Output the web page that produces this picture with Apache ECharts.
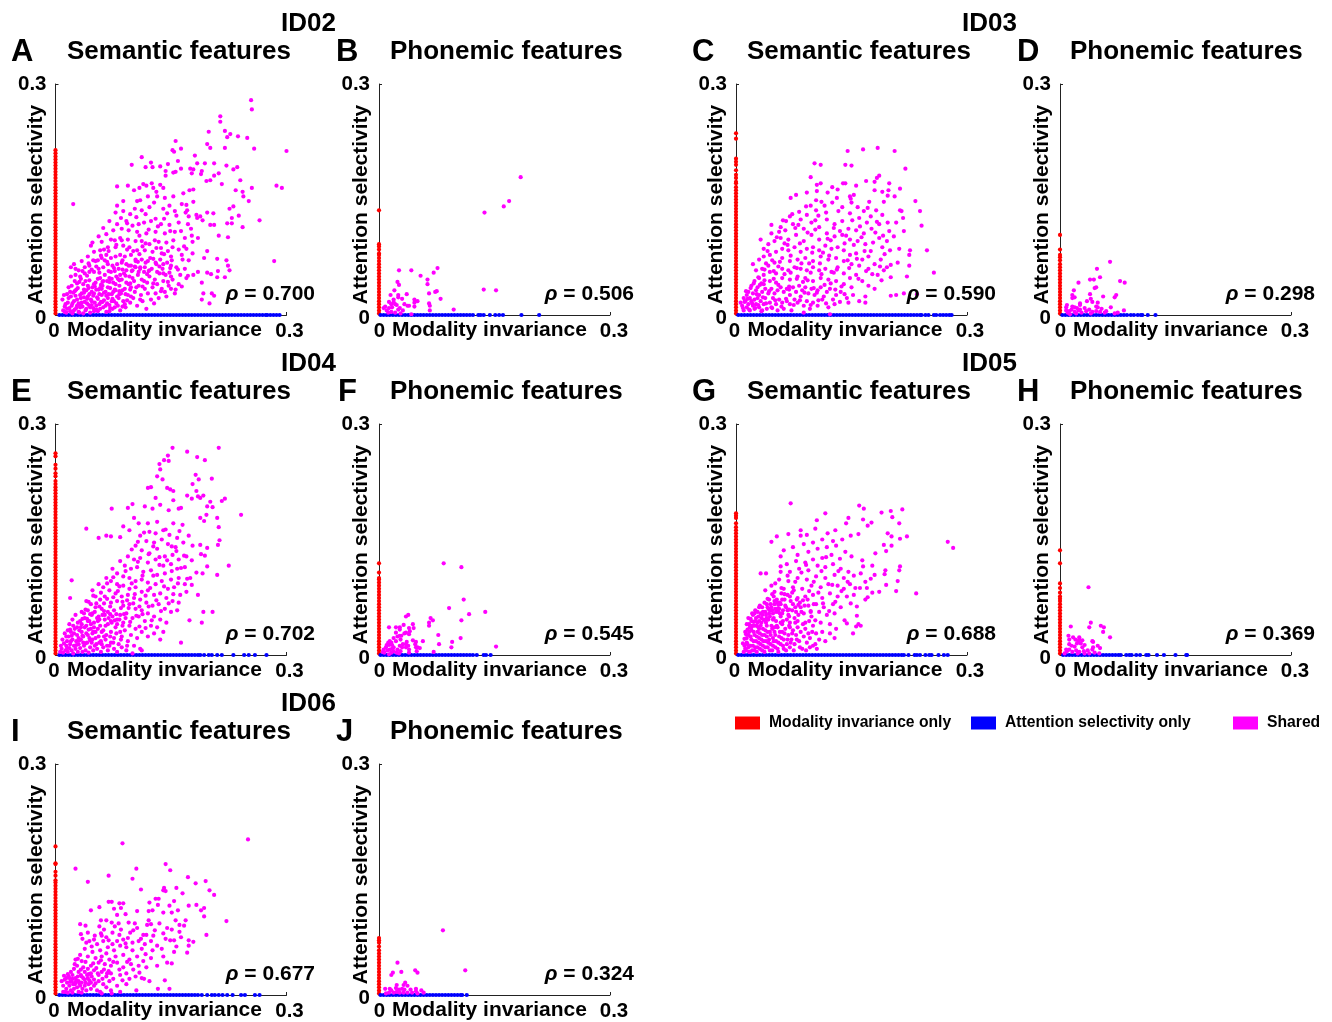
<!DOCTYPE html>
<html><head><meta charset="utf-8"><style>html,body{margin:0;background:#fff}#c{width:1332px;height:1022px}</style>
<script src="https://cdn.jsdelivr.net/npm/echarts@6/dist/echarts.min.js"></script></head><body><div id="c"></div>
<script>
const letters=['A','B','C','D','E','F','G','H','I','J'];
const rhos=['0.700','0.506','0.590','0.298','0.702','0.545','0.688','0.369','0.677','0.324'];
const idLabels=['ID02','ID03','ID04','ID05','ID06'];

const redA=[2,6,10,14,18,22,26,30,34,38,42,46,50,54,58,62,66,70,74,78,82,86,90,94,98,102,106,110,114,118,122,126,130,134,138,142,146,150,154,158,162,166,170,174,178,182,186,190,194,198,202,206,210,214];
const redB=[2,6,10,14,18,22,26,30,34,38,42,46,50,54,58,62,66,70,74,78,80,85,89,92,136];
const redC=[2,6,10,14,18,22,26,30,34,38,42,46,50,54,58,62,66,70,74,78,82,86,90,94,98,102,106,110,114,118,122,126,130,134,138,142,146,150,154,158,162,166,171,173,178,182,188,195,199,203,229,236];
const redD=[2,6,10,14,18,22,26,30,34,38,42,46,50,54,58,62,66,71,75,78,85,104];
const redE=[2,6,10,14,18,22,26,30,34,38,42,46,50,54,58,62,66,70,74,78,82,86,90,94,98,102,106,110,114,118,122,126,130,134,138,142,146,150,154,158,162,166,170,174,178,182,186,190,194,198,202,206,210,214,218,222,226,232,236,242,247,258,262];
const redF=[2,6,10,14,18,22,26,30,34,38,42,46,50,54,58,62,66,70,74,78,82,86,90,94,98,100,107,119];
const redG=[2,6,10,14,18,22,26,30,34,38,42,46,50,54,58,62,66,70,74,78,82,86,90,94,98,102,106,110,114,118,122,126,130,134,138,142,146,150,154,158,162,166,171,178,181,184];
const redH=[2,6,10,14,18,22,26,30,34,38,42,46,50,54,58,62,66,70,73,76,81,87,93,119,136];
const redI=[2,6,10,14,18,22,26,30,34,38,42,46,50,54,58,62,66,70,74,78,82,86,90,94,98,102,106,110,114,118,122,126,130,134,138,142,146,149,155,160,170,171,193];
const redJ=[2,6,10,14,18,22,26,30,34,38,42,46,50,54,58,63,68,71,74];

const blueA=[5,9,13,17,21,25,29,33,37,41,45,49,53,57,61,65,69,73,77,81,85,89,93,97,101,105,109,113,117,121,125,129,133,137,141,145,149,153,157,161,165,169,173,177,181,185,189,193,197,201,205,209,213,217,221,225,229,233,237,241,245,249,253,257,261,265,269,273,275,279,283,287,291];
const blueB=[2,6,10,14,18,22,26,30,34,38,42,46,50,54,58,62,66,70,74,78,82,86,90,94,98,102,106,110,114,118,122,129,132,136,144,151,156,161,185,208];
const blueC=[3,7,11,15,19,23,27,31,35,39,43,47,51,55,59,63,67,71,75,79,83,87,91,95,99,103,107,111,115,119,123,127,131,135,139,143,147,151,155,159,163,167,171,175,179,183,187,191,195,199,203,207,211,215,219,223,227,231,235,239,241,246,250,257,260,265,269,273,277,280];
const blueD=[3,7,11,15,19,23,27,31,35,39,43,47,51,55,59,63,67,71,75,79,83,87,92,96,101,105,107,114,124];
const blueE=[5,9,13,17,21,25,29,33,37,41,45,49,53,57,61,65,69,73,77,81,85,89,93,97,101,105,109,113,117,121,125,129,133,137,141,145,149,153,157,161,165,169,173,177,181,185,188,193,199,203,210,216,231,245,251,259,274];
const blueF=[2,6,10,14,18,22,26,30,34,38,42,46,50,54,58,62,66,70,74,78,82,86,90,94,98,102,106,110,114,118,122,127,136,139,145];
const blueG=[3,7,11,15,19,23,27,31,35,39,43,47,51,55,59,63,67,71,75,79,83,87,91,95,99,103,107,111,115,119,123,127,131,135,139,143,147,151,155,159,163,167,171,175,179,183,187,191,195,199,203,207,211,215,218,224,232,235,239,246,251,254,263,270,275];
const blueH=[4,8,12,16,20,24,28,32,36,40,44,48,52,56,60,64,68,72,76,79,86,90,93,99,104,112,115,126,135,150,164,165];
const blueI=[5,9,13,17,21,25,29,33,37,41,45,49,53,57,61,65,69,73,77,81,85,89,93,97,101,105,109,113,117,121,125,129,133,137,141,145,149,153,157,161,165,169,173,177,181,185,190,197,203,207,212,217,223,230,241,246,259,265];
const blueJ=[2,6,10,14,18,22,26,30,34,38,42,46,50,54,58,62,66,70,74,78,82,86,90,94,98,102,106,108,114];

// flat x,y pairs
const sharedA=[254,279,255,267,214,258,214,251,199,238,220,239,227,235,223,231,237,232,249,230,197,222,201,217,220,217,258,216,300,213,156,226,152,214,163,216,154,212,181,207,159,200,184,197,194,197,206,197,222,194,236,192,231,189,112,205,99,195,117,192,124,198,126,192,136,193,146,196,156,186,163,190,143,187,143,181,153,185,175,190,179,189,190,187,189,183,177,184,206,181,212,184,201,175,196,174,216,170,240,175,255,165,287,168,294,165,234,162,243,160,244,154,251,148,23,144,265,123,284,70,243,114,238,129,229,126,231,141,226,138,223,119,229,119,224,101,212,103,206,117,201,117,197,133,205,132,188,128,191,123,184,126,197,83,193,74,210,73,222,71,224,64,226,58,220,49,211,57,210,49,202,53,197,55,190,42,185,56,179,52,172,51,192,28,190,20,203,28,206,25,200,15,164,37,
80,167,94,168,102,162,109,165,114,170,118,168,125,171,127,165,136,169,140,165,131,160,80,142,88,148,106,148,110,149,120,154,132,154,142,152,153,154,166,158,174,162,179,163,164,144,170,143,179,147,171,136,173,128,183,130,148,142,155,135,140,138,145,132,128,146,122,140,112,136,103,138,97,131,88,135,85,126,78,133,70,122,62,113,80,118,92,122,100,116,108,118,115,120,124,122,130,125,137,118,148,117,160,120,172,118,176,112,185,100,178,95,168,100,155,108,142,106,130,108,118,106,106,108,95,110,86,112,75,110,66,105,56,102,48,94,46,90,60,95,72,98,84,100,94,98,104,96,112,96,122,92,134,95,144,94,152,88,160,85,170,86,178,80,164,78,150,76,138,80,126,82,116,84,106,84,96,88,88,90,78,88,68,88,58,84,50,82,42,76,34,70,24,66,
20,62,26,60,30,58,38,62,44,64,52,70,60,74,66,78,72,74,78,76,84,78,90,76,98,78,104,72,112,72,120,70,130,68,140,66,150,64,20,50,26,52,32,50,38,54,44,56,50,56,56,60,62,62,68,66,74,64,80,66,86,68,92,66,98,64,104,62,110,60,116,62,122,58,132,56,140,54,150,50,
9,20,11,26,13,14,15,8,12,4,17,22,19,30,21,12,23,5,24,18,26,25,27,9,29,35,30,15,31,3,33,22,34,28,35,11,36,40,38,17,39,6,40,32,42,24,43,13,44,45,45,3,46,20,48,36,49,9,50,28,51,16,52,42,54,23,55,5,56,33,57,14,58,48,60,26,61,38,62,10,63,19,64,52,65,30,66,4,67,44,68,22,70,13,71,35,72,56,73,27,74,8,75,42,76,18,78,32,79,50,80,24,81,12,82,60,83,38,84,6,85,28,86,46,88,18,89,54,90,34,91,10,92,42,94,26,95,64,96,50,97,16,98,36,100,58,101,22,102,44,103,30,104,70,106,12,107,52,108,38,110,62,111,26,112,46,113,18,115,56,116,34,117,68,118,8,119,42,120,28,122,50,123,74,124,20,125,60,126,36,128,15,129,46,130,28,131,66,132,40,134,22,135,54,136,72,138,34,139,60,140,44,142,30,143,52,144,24,145,68,147,38,148,55,150,34,152,46,155,28,157,62,160,40,162,52,165,72,168,60,170,48,
10,6,12,11,14,3,16,16,18,9,19,5,20,24,22,2,22,15,25,7,25,31,28,12,28,20,30,4,32,10,32,26,34,16,36,2,37,23,37,33,40,8,41,15,42,38,44,27,45,10,47,18,47,30,50,5,50,40,53,12,53,33,55,21,58,8,59,17,60,34,62,44,65,12,66,25,68,36,70,5,70,48,73,18,75,30,77,10,78,40,82,22,84,52,87,32,90,14,92,58,95,40,98,24,100,48,105,36,108,56,110,20,115,44,
55,71,63,85,69,57,77,97,81,47,87,71,93,119,99,57,101,83,105,127,107,69,109,103,113,89,117,131,119,53,121,111,127,73,129,97,133,115,135,63,137,87,141,125,146,83,149,109,151,71,153,97,157,129,159,59,163,109,167,89,169,133,173,71,177,103,58,35,64,71,70,43,76,61,83,31,86,97,91,51,93,85,97,41,103,63,109,79,113,37,117,93,121,57,127,41,131,87,137,31,141,79,146,43,149,61,156,33,
21,38,25,44,28,41,33,47,35,57,41,51,43,67,47,59,49,71,53,63,57,55,59,77,61,43,67,69,69,83,73,47,77,57,79,91,83,45,87,59,
15,27,17,36,23,29,27,33,31,43,33,13,37,29,39,44,41,21,43,35,47,13,49,25,51,37,53,7,55,47,57,27,59,39,61,17,63,29,67,15,69,27,71,9,74,21,77,33,79,15,83,27,87,11,91,27,93,19,97,33];

const sharedB=[184,179,169,148,162,141,137,133,136,33,152,32,76,61,71,55,42,58,26,58,54,51,63,46,63,40,24,43,26,39,20,32,15,26,25,26,25,23,36,27,30,21,65,28,73,30,75,31,80,21,46,20,50,18,46,16,46,11,65,15,66,12,66,6,97,7,19,20,13,17,16,14,19,17,21,14,23,13,27,9,33,14,37,12,39,12,8,11,6,9,10,6,12,3,16,4,21,3,28,2,42,1,31,6,25,7,13,9,17,10];

const sharedC=[145,213,165,215,184,217,206,213,220,190,102,197,110,195,142,195,150,194,97,179,186,181,183,178,169,174,199,171,105,169,110,171,125,166,139,171,142,171,132,163,156,168,180,173,180,162,190,160,213,164,198,162,197,155,206,154,92,159,119,159,105,161,71,152,78,156,104,149,131,152,148,154,153,156,173,147,192,147,233,148,239,135,241,116,213,136,215,135,217,126,208,120,218,109,248,84,226,84,225,78,257,55,210,68,201,65,192,58,222,50,225,64,235,27,218,28,208,26,201,25,189,45,46,117,58,114,65,122,82,134,97,142,
150,146,158,140,166,135,175,128,182,136,190,130,197,120,186,118,170,120,160,126,148,132,138,140,125,146,115,142,104,136,92,130,84,124,74,118,64,110,70,128,88,112,98,120,108,114,118,124,128,118,138,122,146,112,156,110,166,106,176,112,186,100,196,96,205,102,212,86,200,84,190,88,178,94,168,92,158,96,148,98,138,104,128,102,118,106,108,98,98,104,88,96,78,104,68,98,58,100,50,96,42,92,36,86,32,98,46,106,56,108,
30,72,36,76,44,78,52,82,60,86,68,84,76,88,84,82,92,86,100,88,108,84,116,90,124,86,132,88,140,84,148,78,156,80,164,72,172,76,180,66,188,72,196,62,184,52,172,60,160,64,150,66,140,70,130,74,120,72,110,76,100,70,90,74,80,72,70,70,60,74,50,68,42,64,34,60,26,58,22,66,
24,44,30,48,36,52,44,56,52,54,60,60,68,58,76,62,84,60,92,58,100,62,108,58,116,60,124,56,132,62,140,54,148,48,156,52,164,44,172,38,180,34,150,36,140,40,130,44,120,46,110,48,100,44,90,48,80,50,70,46,60,48,52,42,44,44,36,40,28,36,20,38,16,30,
18,22,22,28,26,32,30,26,34,30,38,34,42,28,46,34,50,28,54,32,58,36,62,30,66,34,70,26,74,36,78,30,82,38,86,32,90,36,94,28,98,34,102,26,106,32,110,36,114,24,118,30,122,34,126,20,130,26,136,30,144,22,152,26,160,18,168,24,
6,16,8,12,10,6,10,22,12,18,14,10,14,26,16,14,18,6,20,18,22,12,24,20,24,8,26,14,28,22,30,10,32,18,34,6,36,14,38,22,40,8,44,16,46,10,48,22,52,14,54,6,56,20,60,16,62,8,66,18,70,14,72,6,76,20,80,16,84,24,88,12,92,18,96,8,100,16,106,12,112,20,120,10,128,14,
88,3,122,1,168,16,146,16,
33,41,39,67,47,71,55,63,63,93,71,77,77,113,83,93,91,141,95,67,103,111,107,129,113,81,117,133,123,97,127,55,135,109,141,93,147,61,151,123,157,73,163,101,169,57,175,83,181,107,187,63,193,79,199,109,29,49,37,59,41,83,49,47,53,101,57,69,61,123,67,91,69,37,73,131,79,61,81,117,87,43,93,107,97,55,99,81,103,123,105,29,109,67,111,147,115,39,119,99,121,77,127,113,131,59,133,135,137,37,143,103,145,71,149,151,153,91,159,47,161,115,167,83,171,139,177,53,183,121,191,103,201,49,
9,9,11,17,13,31,15,21,17,7,19,35,21,15,23,41,25,9,27,27,29,13,31,39,33,5,35,23,37,45,39,15,43,31,47,9,49,57,51,19,55,39,59,11,63,53,65,21,69,33,71,55,75,13,79,47,83,19,85,67,89,29,93,45,97,13,101,35,107,19,111,53,117,15,123,41,129,33,135,17,141,27];

const sharedD=[65,69,48,60,52,49,39,46,44,46,24,42,78,44,84,42,18,32,47,36,45,35,16,26,19,23,16,22,39,27,40,21,42,17,35,18,26,15,26,13,49,16,56,24,73,26,71,23,66,10,9,13,8,10,16,11,19,10,22,9,32,9,26,7,47,11,49,10,54,8,60,5,83,6,75,3,71,2,10,3,12,5,15,7,19,4,21,2,24,6,28,3,34,5,38,7,42,4,47,5,52,4,58,3,40,2,8,6,13,1];

const sharedE=[152,269,212,269,171,264,146,259,141,253,184,257,194,253,147,252,135,248,136,241,182,234,203,229,132,232,139,228,186,228,178,222,120,217,124,218,145,217,149,215,153,213,183,213,153,201,171,207,177,203,185,206,192,207,188,204,201,199,220,203,216,200,73,190,94,191,100,196,116,193,130,204,126,190,136,195,147,188,160,190,163,191,197,193,204,192,196,182,241,182,210,178,188,178,193,174,212,166,102,178,40,164,56,152,66,155,72,154,84,153,88,167,96,162,108,171,120,171,132,173,153,171,165,169,213,149,211,143,173,155,188,143,178,142,194,129,197,115,225,116,210,104,191,106,175,100,177,91,185,78,192,56,204,56,174,45,190,42,163,16,21,97,19,74,
110,155,122,160,130,158,140,162,148,156,158,152,118,148,128,146,138,150,146,144,156,140,166,146,104,142,112,136,122,132,132,138,142,128,152,130,160,124,170,128,94,128,102,124,110,126,120,120,130,124,140,116,150,118,158,112,168,114,84,122,90,116,98,112,106,114,114,108,124,110,132,104,142,106,150,98,160,100,168,92,74,112,80,106,88,102,96,100,104,96,112,98,120,94,130,92,138,96,146,86,154,88,162,78,170,82,66,100,72,96,80,92,88,90,96,86,104,88,112,82,120,84,128,78,136,80,144,74,152,70,160,68,56,92,62,88,70,84,78,80,86,76,94,78,102,74,110,72,118,68,126,64,134,66,142,60,150,56,158,58,
48,84,52,76,58,72,64,76,72,68,80,70,88,64,96,66,104,60,112,58,120,54,128,50,136,46,144,42,46,66,52,62,60,60,68,56,76,58,84,52,92,54,100,48,108,50,116,44,124,38,132,36,140,30,40,70,34,56,42,58,48,54,56,50,64,46,72,44,80,40,88,42,96,38,104,34,112,30,120,24,128,28,136,20,
14,24,16,32,18,40,20,18,22,46,24,28,26,52,28,36,30,22,32,44,34,30,36,16,38,48,40,38,42,26,44,44,46,34,48,20,50,42,52,30,54,48,56,24,58,38,60,14,62,32,64,52,66,26,68,40,70,12,72,30,74,50,76,22,78,36,80,46,82,14,84,30,86,24,90,32,94,18,98,26,102,12,106,22,110,8,
6,4,7,12,8,8,9,20,10,3,11,15,12,28,13,6,14,12,15,18,16,4,17,24,18,9,19,14,20,30,21,6,22,20,23,2,24,12,25,34,26,8,27,18,28,26,29,4,30,14,31,32,32,9,33,20,34,40,35,4,36,24,37,12,38,36,39,6,40,28,41,16,42,44,43,3,44,22,45,10,46,40,47,16,48,28,49,6,50,36,51,12,52,22,54,8,55,44,57,16,59,4,60,30,62,10,65,20,68,6,72,16,76,8,80,4,86,10,92,6,100,2,112,6,
63,57,67,93,71,63,75,101,79,53,83,89,87,69,91,109,95,61,99,93,103,79,107,121,109,63,113,103,117,77,121,131,123,87,127,103,131,71,135,117,137,57,141,89,145,123,147,67,151,109,153,79,157,135,159,93,163,113,167,129,171,99,177,123,183,107,189,131,197,139,99,137,107,147,115,159,127,141,135,127,143,163,151,141,161,161,
35,47,39,59,43,69,45,53,49,77,53,67,57,63,59,81,63,67,67,73,71,53,75,75,77,45,81,83,85,61,89,53,93,71,97,43,101,67,105,51,109,37,113,53,117,35,121,63,125,45,
15,9,19,33,21,25,23,38,27,13,29,42,31,19,33,36,35,25,37,54,39,15,41,47,43,33,45,19,47,52,49,30,51,56,53,14,55,34,57,46,59,18,61,52,63,24,65,38,67,12,69,48,71,24,73,42,75,16,79,28,83,46,85,20,87,38,91,48,93,12];

const sharedF=[84,119,107,114,110,72,91,61,117,53,138,56,107,45,38,52,35,50,67,48,70,45,65,42,65,38,44,40,32,39,13,36,22,36,27,36,27,33,39,35,45,35,40,31,33,28,35,29,39,27,22,29,77,26,57,18,106,22,95,17,78,14,94,10,152,11,71,4,53,9,49,5,44,19,48,17,47,14,48,10,50,10,27,25,24,24,29,25,19,22,22,18,28,20,36,17,31,14,35,14,38,12,39,7,39,3,35,10,30,10,27,12,28,5,14,18,12,16,16,16,10,13,13,13,17,13,19,10,24,7,23,3,6,7,7,3,11,6,14,7,16,3,19,5,13,1,26,2,9,10,17,8,5,4];

const sharedG=[71,197,160,194,166,190,189,185,201,187,216,189,116,184,203,179,105,175,146,178,165,176,143,171,171,168,176,172,212,171,103,164,84,162,129,162,197,158,202,154,222,154,213,151,275,147,282,139,46,147,53,154,68,157,92,156,84,155,119,158,149,155,159,157,192,143,195,135,202,142,181,132,164,123,177,116,194,110,213,115,212,110,193,105,180,104,162,106,210,96,195,91,168,95,170,87,155,87,177,81,186,82,208,83,234,80,153,78,168,72,157,63,159,40,162,38,156,37,152,28,144,41,105,8,96,10,58,128,32,106,39,106,58,115,
138,150,126,148,112,150,100,146,88,144,74,140,62,136,80,130,94,134,106,138,118,140,130,142,142,134,150,128,135,125,124,130,112,126,100,124,90,120,78,122,66,118,58,108,70,108,82,112,94,110,106,116,116,114,126,118,136,112,146,108,140,100,128,104,116,100,104,102,92,98,80,100,68,96,56,98,46,90,38,84,50,82,62,86,74,88,86,86,98,90,110,88,120,92,132,90,140,86,148,92,144,76,132,76,122,80,112,74,100,78,90,76,80,74,70,76,60,72,50,70,40,66,30,62,24,54,34,52,44,58,54,60,64,64,74,66,84,62,94,64,104,66,114,62,126,66,136,62,128,54,118,52,108,56,98,50,88,54,78,56,68,52,58,50,48,46,38,44,28,42,20,36,30,34,40,38,50,36,60,40,70,42,80,44,90,42,100,38,110,42,122,40,130,34,
12,8,14,16,16,10,16,26,18,4,20,20,20,32,22,12,24,26,24,6,26,18,28,30,28,10,30,22,32,14,32,38,34,6,34,26,36,18,38,32,38,10,40,24,42,46,42,16,44,30,44,6,46,38,48,22,48,12,50,30,52,44,52,18,54,8,54,36,56,24,58,14,58,42,60,30,62,20,62,8,64,34,66,46,66,14,68,26,70,36,70,10,72,20,74,32,76,48,76,14,78,26,80,36,82,18,84,30,86,8,88,24,90,34,92,16,94,28,96,22,100,12,104,28,108,20,112,30,116,18,122,28,128,22,
10,4,11,12,13,6,14,22,15,14,17,30,17,4,19,12,19,24,21,6,21,38,23,18,23,30,25,10,25,44,27,24,27,4,29,16,29,36,31,8,31,28,33,20,33,48,35,12,35,34,37,26,37,4,39,18,39,42,41,10,41,30,43,20,43,54,45,14,45,26,47,6,47,34,49,18,49,48,51,10,51,26,53,38,55,16,55,4,57,30,57,54,59,22,61,12,61,44,63,28,65,6,67,20,67,58,69,38,71,16,73,28,75,6,77,42,79,20,83,10,87,40,91,6,95,44,99,30,103,14,
41,73,47,79,51,93,55,65,59,87,63,79,67,103,69,59,73,81,77,95,81,65,85,107,87,71,91,117,95,83,97,57,101,95,103,45,107,81,111,109,113,67,117,127,121,57,125,91,129,69,133,109,137,83,141,45,145,95,149,67,153,103,157,51,161,87,165,115,171,75,175,99,
9,15,11,21,13,27,15,33,17,40,19,47,21,54,23,43,25,58,27,38,29,50,31,64,33,42,35,56,37,68,39,52,41,62,43,72,45,66,47,58,49,76,51,60,53,72,55,56,57,68,59,80,61,58,63,72,65,62,67,78,69,50,71,70,73,58,75,84,77,62,79,72,81,52,83,68,85,56,89,64,93,72,97,56,101,66,
12,30,14,40,16,48,18,36,20,44,22,52,24,38,26,48,28,56,30,44,32,54,34,62,36,46,38,56,40,48,42,60,44,50,46,62,48,54,50,66,52,56,54,68,56,60,58,66,60,54];

const sharedH=[37,88,40,42,14,37,38,36,53,38,57,36,56,30,65,23,11,25,12,20,17,23,20,20,25,23,25,20,29,19,24,18,22,15,27,15,42,18,43,17,32,13,12,14,15,12,19,11,12,7,9,5,6,2,8,7,16,4,21,6,25,4,29,10,31,5,36,6,38,2,42,7,43,10,49,12,52,9,45,3,51,2,23,2,32,2];

const sharedI=[250,202,87,197,26,164,105,164,143,170,149,162,69,155,100,151,42,147,172,153,195,148,182,145,141,139,157,139,140,136,111,137,200,136,165,132,206,130,134,125,130,125,143,135,122,120,133,117,148,116,154,122,173,116,183,117,193,113,189,110,57,114,46,110,69,121,73,121,83,119,88,119,85,113,76,112,91,105,80,104,106,109,121,109,126,110,140,107,151,107,159,110,193,102,156,97,222,96,161,91,167,90,169,97,161,82,145,87,196,78,32,92,39,90,59,97,66,97,73,94,82,93,95,94,121,97,124,92,33,79,42,81,59,80,60,77,66,75,74,81,83,78,106,87,101,84,114,78,118,78,129,84,140,80,149,71,154,71,173,71,179,69,173,64,171,55,154,56,145,42,151,41,133,8,148,8,142,19,115,21,
40,68,44,70,50,72,54,66,62,70,68,62,74,66,80,70,88,72,94,74,100,68,108,70,116,66,124,70,132,64,138,60,126,58,112,60,100,58,92,62,84,64,76,58,66,54,58,58,48,56,38,60,32,52,26,46,34,44,42,50,52,48,60,50,70,46,78,50,88,52,96,46,106,50,114,44,124,48,132,38,140,50,118,36,108,38,98,40,88,36,80,42,72,38,64,40,56,42,46,38,36,36,28,38,
20,30,24,34,30,30,34,24,38,30,42,34,46,28,50,32,56,26,60,30,66,24,72,28,84,26,92,28,104,24,112,22,122,18,18,22,22,26,26,22,30,18,34,16,38,20,42,22,46,16,50,20,56,18,62,14,70,18,80,12,92,14,8,18,10,12,12,20,14,8,15,16,17,24,18,12,20,6,21,18,23,14,24,8,26,16,28,10,30,4,32,12,35,8,38,12,40,6,43,14,46,8,50,12,54,6,58,4,66,10,72,6,10,4,13,4,16,3,22,3,34,3,60,2,73,2,84,4,105,6,
35,73,47,63,51,77,57,89,63,85,69,71,77,89,85,85,91,67,97,81,103,93,111,73,119,91,127,77,135,93,143,73,151,85,157,63,163,75,
25,40,29,47,33,33,39,43,43,27,49,41,53,35,59,45,63,33,69,31,75,43,83,33,93,43,101,33,109,29,117,53,
11,25,14,22,16,27,19,17,22,21,25,14,27,19,29,24,31,15,33,26,36,22,39,16,41,26,44,19,47,24,52,15,55,28,61,21,67,28,75,21,87,19,96,21];

const sharedJ=[83,84,112,32,24,42,29,30,47,32,50,29,18,29,16,26,23,13,34,16,32,13,37,12,8,8,14,8,16,6,22,9,26,7,30,8,33,7,41,7,48,8,48,5,55,6,58,3,9,2,13,3,19,3,23,4,27,3,32,3,37,3,43,3,50,2];

const reds=[redA,redB,redC,redD,redE,redF,redG,redH,redI,redJ];
const blues=[blueA,blueB,blueC,blueD,blueE,blueF,blueG,blueH,blueI,blueJ];
const shareds=[sharedA,sharedB,sharedC,sharedD,sharedE,sharedF,sharedG,sharedH,sharedI,sharedJ];

const F='"Liberation Sans",Arial,sans-serif';
const pos=[[55.5,84],[379,84],[736,84],[1060,84],[55.5,424],[379,424],[736,424],[1060,424],[55.5,764],[379,764]];
const letterX=[11,336,692,1017,11,338,692,1017,11,336];
const titleX=[67,390,747,1070,67,390,747,1070,67,390];
const rhoR=[315,634,996,1315,315,634,996,1315,315,634];
const idPos=[[281,11],[962,11],[281,351],[962,351],[281,691]];
const even=[0,1,0,1,0,1,0,1,0,1];
const grids=[],xs=[],ys=[],series=[],titles=[];
const T=(text,left,top,size)=>titles.push({text,left,top,padding:0,textStyle:{fontFamily:F,fontWeight:'bold',fontSize:size,color:'#000'}});
idLabels.forEach((t,i)=>T(t,idPos[i][0],idPos[i][1],26));
const tick=(o)=>({fontFamily:F,fontWeight:'bold',fontSize:20.5,color:'#000',...o});
pos.forEach((p,i)=>{
 const ev=even[i];
 grids.push({left:p[0],top:p[1],width:231,height:231,outerBoundsMode:'none',containLabel:false});
 const ax={type:'value',min:0,max:0.3,interval:0.3,gridIndex:i,splitLine:{show:false},nameMoveOverlap:false,
  axisLine:{onZero:false,lineStyle:{color:'#222',width:1}},axisTick:{inside:true,length:3,lineStyle:{color:'#222'}}};
 const nameStyle={fontFamily:F,fontWeight:'bold',fontSize:21,color:'#000'};
 xs.push({...ax,name:'Modality invariance',nameLocation:'middle',nameGap:15,nameTextStyle:{...nameStyle,padding:[0,ev?10:13,0,0],verticalAlign:'middle'},
  axisLabel:{...tick(),margin:6,formatter:v=>v===0?'{a|0}':'{b|0.3}',rich:{a:tick({padding:ev?[0,0,0,1]:[0,3,0,0]}),b:tick({padding:[0,0,0,ev?8:6]})}}});
 ys.push({...ax,name:'Attention selectivity',nameLocation:'middle',nameGap:ev?7:9,nameTextStyle:{...nameStyle,padding:[0,10,0,0]},
  axisLabel:{...tick(),margin:9,formatter:v=>v===0?'{a|0}':'{b|0.3}',rich:{a:tick({padding:[6,0,0,0]}),b:tick()}}});
 const s=(name,color,data)=>series.push({type:'scatter',name,xAxisIndex:i,yAxisIndex:i,clip:false,symbolSize:4.2,itemStyle:{color,opacity:1},data,silent:true});
 s('Modality invariance only','#ff0000',reds[i].map(v=>[0,v/1000]));
 s('Attention selectivity only','#0000ff',blues[i].map(v=>[v/1000,0]));
 const pts=[];for(let k=0;k<shareds[i].length;k+=2)pts.push([shareds[i][k]/1000,shareds[i][k+1]/1000]);
 s('Shared','#ff00ff',pts);
 T(letters[i],letterX[i],p[1]-47,31);
 T(i%2?'Phonemic features':'Semantic features',titleX[i],p[1]-45,26);
 titles.push({text:'{r|ρ} = '+rhos[i],right:1332-rhoR[i],top:p[1]+200,padding:0,textStyle:{fontFamily:F,fontWeight:'bold',fontSize:21,color:'#000',rich:{r:{fontFamily:F,fontStyle:'italic',fontWeight:'bold',fontSize:21,color:'#000'}}}});
});
const lg=(n,left)=>({data:[n],left,top:715,padding:0,itemWidth:25,itemHeight:13,icon:'rect',textStyle:{fontFamily:F,fontWeight:'bold',fontSize:15.7,color:'#000',padding:[0,0,0,4]},selectedMode:false});
const chart=echarts.init(document.getElementById('c'),null,{renderer:'canvas'});
chart.setOption({animation:false,backgroundColor:'#fff',title:titles,grid:grids,xAxis:xs,yAxis:ys,series,
 legend:[lg('Modality invariance only',735),lg('Attention selectivity only',971),lg('Shared',1233)]});
</script></body></html>
